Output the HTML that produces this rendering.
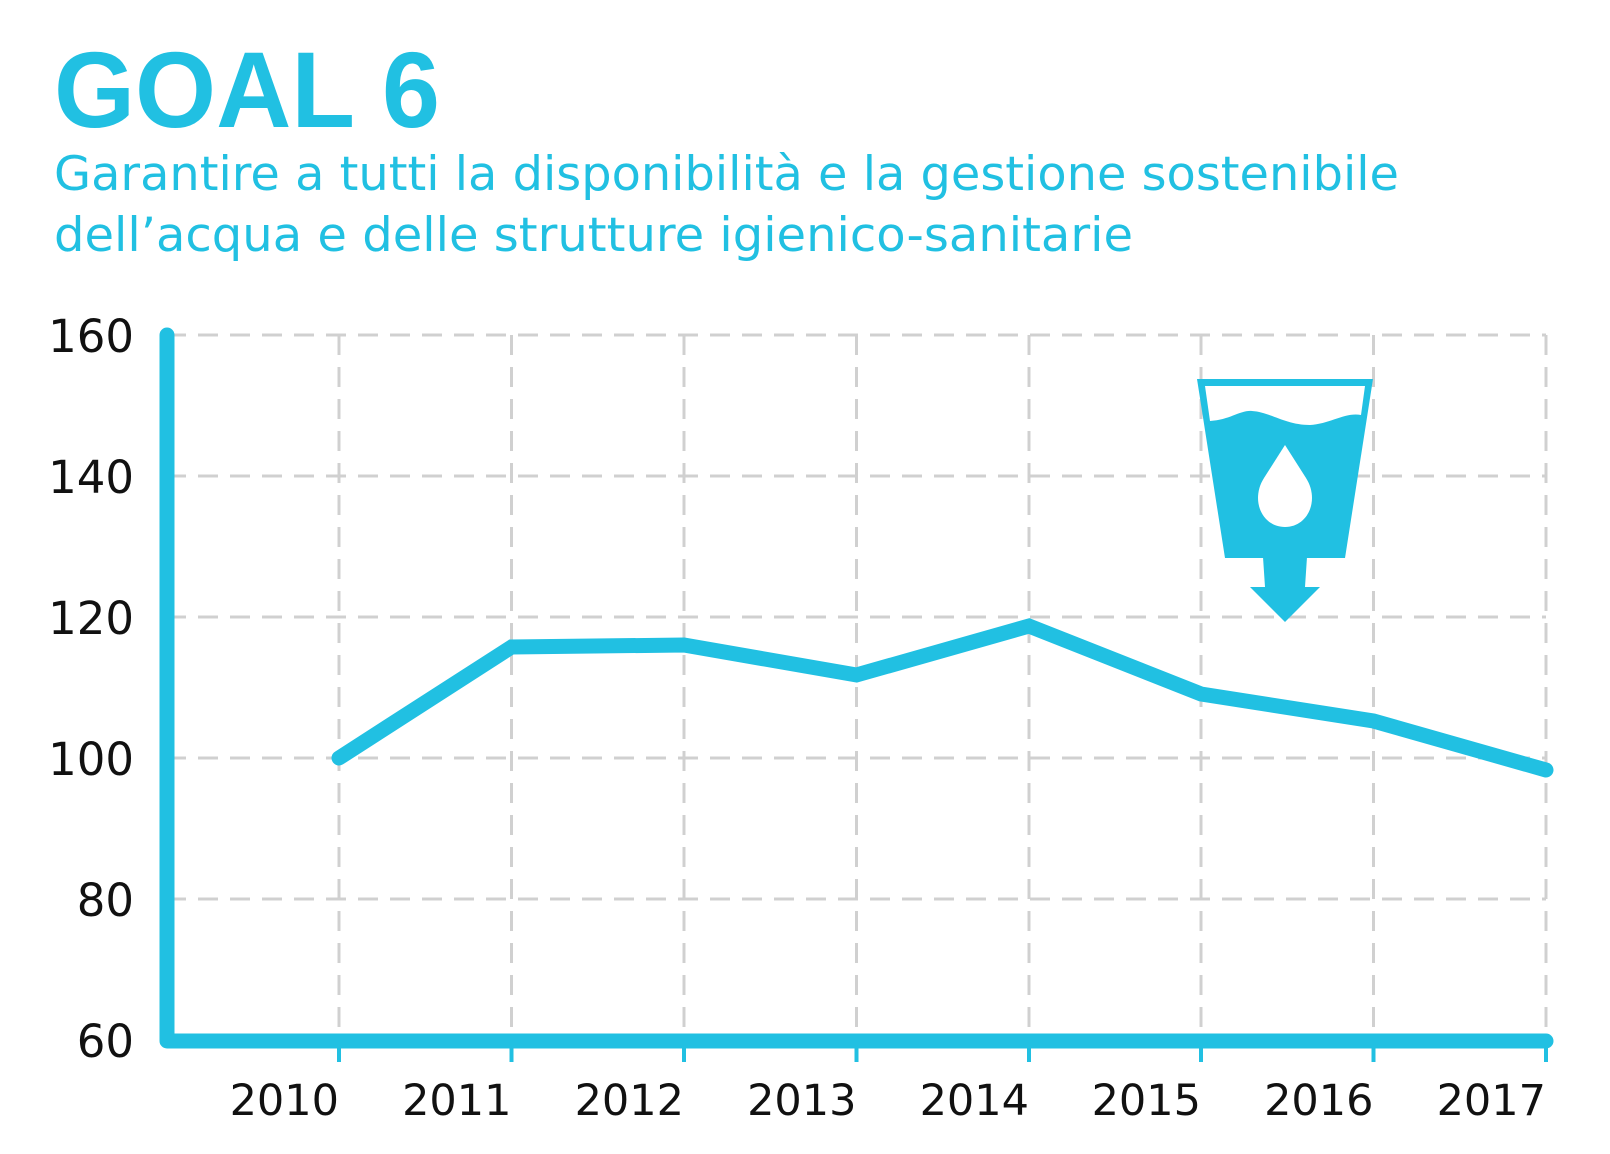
<!DOCTYPE html>
<html><head><style>
body{margin:0;background:#fff;}
</style></head><body>
<svg width="1610" height="1154" xmlns="http://www.w3.org/2000/svg" style="display:block">
<text x="54" y="127" font-family="Liberation Sans, sans-serif" font-weight="bold" font-size="108" fill="#21c0e2" textLength="386" lengthAdjust="spacingAndGlyphs">GOAL 6</text>
<text x="54" y="190" font-family="DejaVu Sans, Liberation Sans, sans-serif" font-size="47" fill="#21c0e2" textLength="1345" lengthAdjust="spacingAndGlyphs">Garantire a tutti la disponibilità e la gestione sostenibile</text>
<text x="54" y="251" font-family="DejaVu Sans, Liberation Sans, sans-serif" font-size="47" fill="#21c0e2" textLength="1079" lengthAdjust="spacingAndGlyphs">dell’acqua e delle strutture igienico-sanitarie</text>
<g stroke="#d0d0d0" stroke-width="3" stroke-dasharray="20,12" fill="none">
<line x1="166" y1="335" x2="1546" y2="335"/>
<line x1="166" y1="476" x2="1546" y2="476"/>
<line x1="166" y1="617" x2="1546" y2="617"/>
<line x1="166" y1="758" x2="1546" y2="758"/>
<line x1="166" y1="899" x2="1546" y2="899"/>
<line x1="339" y1="335" x2="339" y2="1040"/>
<line x1="511.5" y1="335" x2="511.5" y2="1040"/>
<line x1="684" y1="335" x2="684" y2="1040"/>
<line x1="856.5" y1="335" x2="856.5" y2="1040"/>
<line x1="1029" y1="335" x2="1029" y2="1040"/>
<line x1="1201" y1="335" x2="1201" y2="1040"/>
<line x1="1373.5" y1="335" x2="1373.5" y2="1040"/>
<line x1="1546" y1="335" x2="1546" y2="1040"/>
</g>
<g stroke="#21c0e2" stroke-width="4">
<line x1="339" y1="1040" x2="339" y2="1062"/><line x1="511.5" y1="1040" x2="511.5" y2="1062"/><line x1="684" y1="1040" x2="684" y2="1062"/><line x1="856.5" y1="1040" x2="856.5" y2="1062"/><line x1="1029" y1="1040" x2="1029" y2="1062"/><line x1="1201" y1="1040" x2="1201" y2="1062"/><line x1="1373.5" y1="1040" x2="1373.5" y2="1062"/><line x1="1546" y1="1040" x2="1546" y2="1062"/>
</g>
<polyline points="167,335 167,1041 1546,1041" fill="none" stroke="#21c0e2" stroke-width="15" stroke-linecap="round" stroke-linejoin="round"/>
<polyline points="339,758 511.5,647 684,645 856.5,675 1029,626 1201,694 1373.5,721 1546,770" fill="none" stroke="#21c0e2" stroke-width="15" stroke-linecap="round" stroke-linejoin="miter"/>
<g font-family="DejaVu Sans, Liberation Sans, sans-serif" font-size="45" fill="#111" text-anchor="end">
<text x="134" y="352">160</text><text x="134" y="493">140</text><text x="134" y="634">120</text><text x="134" y="775">100</text><text x="134" y="916">80</text><text x="134" y="1057">60</text>
</g>
<g font-family="DejaVu Sans, Liberation Sans, sans-serif" font-size="43" fill="#111" text-anchor="end">
<text x="339" y="1115">2010</text><text x="511.5" y="1115">2011</text><text x="684" y="1115">2012</text><text x="856.5" y="1115">2013</text><text x="1029" y="1115">2014</text><text x="1201" y="1115">2015</text><text x="1373.5" y="1115">2016</text><text x="1546" y="1115">2017</text>
</g>
<g fill="#21c0e2">
<polygon points="1197,379 1373,379 1345,558 1225,558" />
<path d="M1205,386 L1365,386 L1361,415 C1345,412 1330,424 1310,425 C1285,425 1270,412 1252,411 C1240,410 1230,420 1210,421 Z" fill="#fff"/>
<path d="M1285,445 L1306,478 C1320,500 1308,527 1285,527 C1262,527 1250,500 1264,478 Z" fill="#fff"/>
<polygon points="1263,557 1307,557 1305,587 1320,587 1285,622 1250,587 1265,587"/>
</g>
</svg>
</body></html>
